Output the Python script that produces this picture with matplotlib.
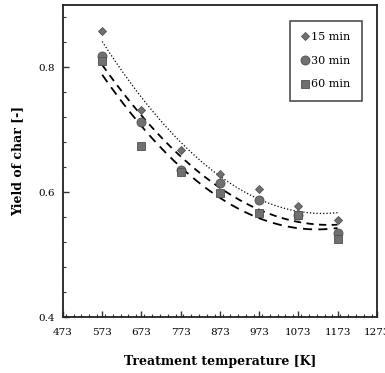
import numpy as np
import matplotlib
matplotlib.use("Agg")
import matplotlib.pyplot as plt
from matplotlib.ticker import MultipleLocator, FixedLocator

temps = [573, 673, 773, 873, 973, 1073, 1173]
y15 = [0.859, 0.731, 0.667, 0.630, 0.605, 0.578, 0.555]
y30 = [0.818, 0.712, 0.635, 0.614, 0.587, 0.563, 0.535]
y60 = [0.811, 0.674, 0.632, 0.598, 0.566, 0.563, 0.525]
labels = ["15 min", "30 min", "60 min"]
xticks = [473, 573, 673, 773, 873, 973, 1073, 1173, 1273]

plt.rcParams['font.family'] = ['DejaVu Serif']

fig = plt.figure(figsize=(3.85, 3.73), dpi=100)
ax = fig.add_axes([0.1636, 0.150, 0.815, 0.8366])

xs = np.linspace(temps[0], temps[-1], 200)
styles = [(':', 0.9), ((0, (4, 3)), 1.3), ((0, (5, 3.5)), 1.3)]
for ys, (ls, lw) in zip([y15, y30, y60], styles):
    c = np.polyfit(temps, ys, 2)
    ax.plot(xs, np.polyval(c, xs), color='black', linestyle=ls, linewidth=lw)

mk = ['D', 'o', 's']
ms = [4.5, 6.5, 6]
for ys, m, s, lab in zip([y15, y30, y60], mk, ms, labels):
    ax.plot(temps, ys, linestyle='none', marker=m, markersize=s,
            markerfacecolor='#707070', markeredgecolor='#505050',
            markeredgewidth=0.6, label=lab)

ax.set_xlim(473, 1273)
ax.set_ylim(0.4, 0.9)
ax.xaxis.set_major_locator(FixedLocator(xticks))
ax.set_xticklabels([str(t) for t in xticks], fontsize=7.5)
ax.xaxis.set_minor_locator(MultipleLocator(20))
ax.yaxis.set_major_locator(FixedLocator([0.4, 0.6, 0.8]))
ax.set_yticklabels(['0.4', '0.6', '0.8'], fontsize=7.5)
ax.yaxis.set_minor_locator(MultipleLocator(0.04))
ax.tick_params(which='both', direction='in', color='#333333')
ax.tick_params(which='major', length=4, width=1, pad=6)
ax.tick_params(which='minor', length=2.5, width=0.8)
ax.tick_params(axis='x', which='major', pad=8)
for sp in ax.spines.values():
    sp.set_linewidth(1.3)
    sp.set_color('#222222')

ax.set_xlabel('Treatment temperature [K]', fontsize=9, fontweight='bold', labelpad=13)
ax.set_ylabel('Yield of char [-]', fontsize=9, fontweight='bold', labelpad=10)

leg = ax.legend(loc='upper right', bbox_to_anchor=(0.952, 0.95), fontsize=8,
                frameon=True, fancybox=False, handlelength=0.6, handletextpad=0.3,
                labelspacing=1.25, borderpad=1.0, borderaxespad=0)
leg.get_frame().set_edgecolor('#222222')
leg.get_frame().set_linewidth(1.2)

fig.savefig('out.png', dpi=100)
